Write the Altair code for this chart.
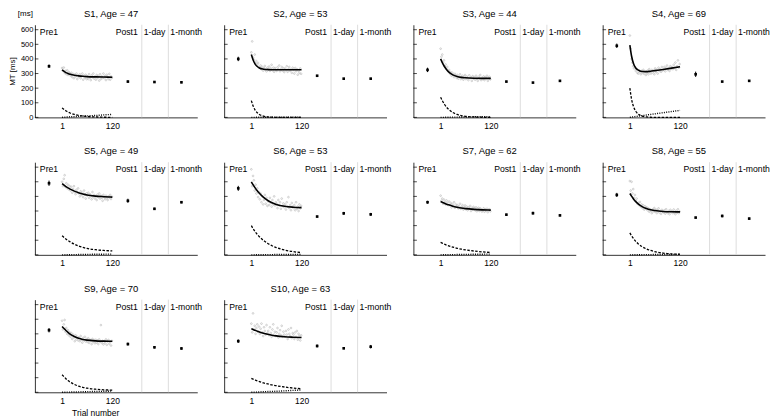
import altair as alt
import pandas as pd

FONT = "Liberation Sans"

subjects = ["S1", "S2", "S3", "S4", "S5", "S6", "S7", "S8", "S9", "S10"]
ages = [47, 53, 44, 69, 49, 53, 62, 55, 70, 63]

fit_trials = [1, 5, 10, 15, 20, 30, 40, 50, 60, 80, 100, 120]
fit_total = {
    "S1": [325, 316, 306, 300, 295, 288, 284, 281, 279, 277, 276, 275],
    "S2": [430, 395, 365, 348, 338, 330, 327, 326, 326, 326, 326, 326],
    "S3": [400, 375, 348, 327, 311, 291, 280, 274, 271, 268, 267, 267],
    "S4": [495, 420, 365, 338, 325, 314, 313, 316, 320, 328, 337, 347],
    "S5": [487, 478, 467, 458, 450, 436, 425, 417, 410, 402, 398, 395],
    "S6": [500, 480, 458, 438, 421, 393, 372, 356, 345, 332, 326, 323],
    "S7": [365, 360, 353, 347, 342, 333, 326, 320, 316, 311, 308, 306],
    "S8": [420, 402, 381, 364, 350, 330, 317, 308, 303, 297, 295, 294],
    "S9": [450, 438, 423, 410, 398, 382, 370, 362, 357, 352, 350, 349],
    "S10": [435, 430, 424, 418, 413, 404, 397, 391, 386, 380, 377, 375],
}
fit_fast = {
    "S1": [65, 55, 45, 37, 30, 20, 13, 9, 6, 3, 1, 0.5],
    "S2": [115, 80, 50, 32, 20, 8, 3, 1, 0, 0, 0, 0],
    "S3": [138, 115, 90, 70, 55, 33, 20, 12, 7, 3, 1, 0],
    "S4": [200, 125, 72, 42, 25, 9, 3, 1, 0, 0, 0, 0],
    "S5": [130, 120, 108, 98, 89, 73, 61, 51, 44, 35, 30, 27],
    "S6": [200, 180, 158, 140, 124, 98, 78, 62, 50, 33, 22, 15],
    "S7": [85, 80, 73, 67, 62, 53, 45, 39, 34, 26, 20, 16],
    "S8": [150, 130, 110, 92, 78, 56, 41, 30, 22, 12, 6, 4],
    "S9": [120, 108, 93, 80, 70, 54, 42, 34, 28, 21, 17, 15],
    "S10": [95, 90, 84, 78, 73, 64, 57, 50, 45, 36, 29, 24],
}
fit_slow = {
    "S1": [0, 1, 2, 3, 4, 5, 7, 9, 10, 13, 17, 20],
    "S2": [0, 0, 0.3, 0.5, 0.5, 0.8, 1, 1, 1, 1.2, 1.4, 1.5],
    "S3": [0, 0, 0.5, 1, 1, 2, 2, 3, 3, 4, 5, 5],
    "S4": [0, 2, 4, 6, 8, 12, 16, 20, 24, 32, 40, 48],
    "S5": [0, 0, 0.5, 1, 1, 1.5, 2, 2.5, 3, 4, 4.5, 5],
    "S6": [0, 0, 0.3, 0.5, 0.7, 1, 1.3, 1.6, 2, 2.4, 2.8, 3],
    "S7": [0, 0.2, 0.5, 0.8, 1, 1.5, 2, 2.5, 3, 3.8, 4.4, 5],
    "S8": [0, 0, 0.3, 0.5, 0.7, 1, 1.3, 1.6, 2, 2.4, 2.8, 3],
    "S9": [0, 0.3, 0.7, 1, 1.4, 2, 2.8, 3.5, 4.2, 5.5, 6.8, 8],
    "S10": [0, 0.5, 1, 2, 2.5, 4, 5, 6, 7, 10, 13, 16],
}

# single-trial movement times (every second trial)
scatter_trials = list(range(1, 120, 2))
scatter_mt = {
    "S1": [338, 320, 341, 305, 318, 296, 322, 290, 310, 300,
           285, 305, 276, 298, 268, 292, 280, 300, 262, 288,
           275, 295, 268, 282, 300, 258, 286, 270, 292, 262,
           280, 262, 296, 272, 255, 288, 275, 300, 266, 280,
           258, 290, 270, 284, 252, 295, 262, 280, 270, 300,
           268, 285, 255, 292, 276, 262, 298, 258, 280, 270],
    "S2": [445, 520, 410, 395, 430, 370, 385, 360, 372, 345,
           340, 355, 330, 345, 320, 338, 352, 328, 315, 340,
           330, 348, 318, 335, 360, 322, 340, 312, 338, 325,
           318, 342, 330, 355, 315, 328, 345, 320, 336, 310,
           335, 322, 350, 312, 330, 345, 318, 328, 305, 340,
           325, 300, 338, 315, 330, 292, 320, 305, 335, 298],
    "S3": [470, 415, 430, 375, 390, 350, 362, 330, 345, 315,
           325, 300, 310, 285, 305, 290, 275, 298, 285, 270,
           290, 265, 280, 295, 262, 275, 285, 258, 278, 290,
           262, 280, 270, 255, 288, 268, 275, 250, 282, 265,
           275, 258, 285, 265, 250, 278, 268, 290, 255, 272,
           262, 280, 255, 275, 268, 285, 250, 270, 278, 260],
    "S4": [560, 470, 400, 375, 350, 335, 345, 318, 330, 305,
           300, 322, 310, 295, 318, 305, 325, 298, 312, 290,
           305, 320, 295, 330, 312, 300, 325, 308, 318, 295,
           335, 310, 325, 300, 340, 318, 330, 312, 345, 322,
           328, 345, 315, 340, 355, 325, 338, 318, 350, 332,
           345, 330, 360, 338, 375, 325, 350, 390, 340, 365],
    "S5": [500, 470, 520, 545, 465, 490, 455, 480, 448, 470,
           440, 465, 425, 450, 470, 430, 415, 445, 428, 455,
           420, 400, 435, 410, 425, 395, 440, 415, 385, 420,
           405, 425, 390, 415, 400, 380, 430, 395, 410, 385,
           400, 375, 412, 395, 420, 385, 405, 390, 370, 410,
           395, 380, 405, 388, 375, 400, 392, 410, 382, 398],
    "S6": [585, 470, 540, 510, 440, 480, 420, 455, 395, 430,
           380, 420, 360, 400, 345, 375, 410, 350, 390, 335,
           365, 340, 390, 355, 330, 375, 345, 400, 338, 360,
           350, 320, 375, 340, 360, 315, 385, 335, 352, 325,
           345, 310, 360, 330, 395, 320, 340, 305, 355, 330,
           320, 340, 305, 360, 315, 330, 300, 345, 318, 335],
    "S7": [405, 370, 385, 350, 378, 360, 345, 372, 355, 340,
           365, 340, 355, 325, 348, 335, 360, 322, 345, 330,
           340, 318, 332, 350, 315, 328, 340, 310, 325, 338,
           312, 330, 305, 325, 318, 335, 300, 322, 310, 328,
           318, 305, 325, 298, 315, 322, 300, 318, 310, 296,
           305, 318, 295, 312, 300, 316, 292, 308, 312, 298],
    "S8": [505, 440, 500, 420, 450, 390, 410, 370, 385, 350,
           355, 340, 362, 330, 345, 320, 338, 310, 332, 318,
           325, 305, 318, 295, 312, 300, 285, 310, 298, 320,
           295, 310, 285, 305, 318, 290, 300, 280, 308, 295,
           290, 305, 282, 312, 295, 285, 300, 278, 308, 292,
           300, 285, 310, 290, 278, 302, 288, 312, 285, 296],
    "S9": [490, 430, 465, 495, 415, 440, 400, 425, 390, 410,
           380, 405, 365, 395, 375, 350, 390, 362, 380, 355,
           375, 350, 385, 360, 340, 372, 355, 380, 348, 365,
           345, 370, 338, 360, 352, 330, 365, 345, 358, 335,
           360, 340, 355, 330, 362, 345, 460, 338, 352, 328,
           350, 335, 362, 325, 348, 358, 332, 345, 320, 352],
    "S10": [470, 410, 540, 430, 455, 400, 440, 465, 415, 450,
            400, 435, 470, 410, 385, 445, 420, 395, 460, 405,
            420, 390, 445, 405, 380, 430, 465, 395, 415, 385,
            410, 440, 375, 400, 425, 390, 455, 380, 415, 395,
            380, 420, 395, 365, 430, 400, 385, 440, 370, 405,
            395, 365, 410, 380, 420, 360, 400, 385, 355, 390],
}

sessions = ["Pre1", "Post1", "1-day", "1-month"]
session_mean = {
    "S1": [350, 245, 242, 240], "S2": [400, 285, 265, 265],
    "S3": [325, 245, 238, 250], "S4": [490, 295, 245, 250],
    "S5": [490, 370, 315, 360], "S6": [455, 262, 284, 277],
    "S7": [360, 275, 285, 270], "S8": [410, 255, 266, 248],
    "S9": [425, 330, 308, 300], "S10": [350, 317, 301, 312],
}
session_err = {
    "S1": [12, 8, 5, 6], "S2": [15, 5, 4, 5], "S3": [15, 5, 4, 6],
    "S4": [15, 18, 4, 5], "S5": [18, 14, 7, 7], "S6": [17, 6, 10, 10],
    "S7": [10, 6, 10, 7], "S8": [14, 5, 9, 7], "S9": [15, 10, 8, 8],
    "S10": [12, 10, 6, 12],
}
y_ticks = [0, 100, 200, 300, 400, 500, 600]
x_ticks = [1, 120]

# layout (positions of the session blocks on the trial axis)
session_x = [-30, 157, 220, 284]
separator_x = [190, 253]
X_DOMAIN = [-63.5, 321.5]
Y_DOMAIN = [0, 634]
W, H = 163, 93
PX = W / (X_DOMAIN[1] - X_DOMAIN[0])
TITLE_OFFSET = 6
MS_Y = -11


def panel(i):
    s = subjects[i]
    first = i == 0
    xs = alt.Scale(domain=X_DOMAIN, nice=False, zero=False)
    ys = alt.Scale(domain=Y_DOMAIN, nice=False, zero=False)
    xaxis = alt.Axis(values=x_ticks, ticks=False, tickSize=0, grid=False,
                     labelFontSize=8.5, labelPadding=4, labelColor="black",
                     domainColor="black", domainWidth=0.8, title=None,
                     labelFlush=False)
    if first:
        yaxis = alt.Axis(values=y_ticks, ticks=False, tickSize=0, grid=False,
                         labelFontSize=7.5, labelPadding=2, labelColor="black",
                         domainColor="black", domainWidth=0.8,
                         title="MT [ms]", titleFontSize=8,
                         titleFontWeight="normal", titleColor="black",
                         titlePadding=4)
    else:
        yaxis = alt.Axis(values=y_ticks, ticks=False, tickSize=0, grid=False,
                         labels=False, domainColor="black", domainWidth=0.8,
                         title=None)

    sc_df = pd.DataFrame({"trial": scatter_trials, "mt": scatter_mt[s]})
    fit_df = pd.DataFrame({"trial": fit_trials, "total": fit_total[s],
                           "fast": fit_fast[s], "slow": fit_slow[s]})
    mean = session_mean[s]
    err = session_err[s]
    ss_df = pd.DataFrame({"session": sessions, "pos": session_x, "mean": mean,
                          "lo": [m - e for m, e in zip(mean, err)],
                          "hi": [m + e for m, e in zip(mean, err)]})
    sep_df = pd.DataFrame({"x": separator_x})
    tick_df = pd.DataFrame({"v": y_ticks})
    lab_left = pd.DataFrame({"t": ["Pre1", "1-day", "1-month"],
                             "x": [X_DOMAIN[0] + 3 / PX, separator_x[0], separator_x[1]]})
    lab_right = pd.DataFrame({"t": ["Post1"], "x": [separator_x[0]]})

    X = lambda f: alt.X(f, scale=xs, axis=xaxis)
    Y = lambda f: alt.Y(f, scale=ys, axis=yaxis)

    seps = alt.Chart(sep_df).mark_rule(color="#d4d4d4", strokeWidth=0.8).encode(x=X("x:Q"))
    ticks = alt.Chart(tick_df).mark_rule(color="black", strokeWidth=0.7).encode(
        y=Y("v:Q"), x=alt.value(0), x2=alt.value(3.5))
    pts = alt.Chart(sc_df).mark_point(shape="circle", filled=False, size=3,
                                      strokeWidth=0.55, color="#b0b0b0", opacity=1).encode(
        x=X("trial:Q"), y=Y("mt:Q"))
    solid = alt.Chart(fit_df).mark_line(color="black", strokeWidth=1.6,
                                        interpolate="monotone").encode(x=X("trial:Q"), y=Y("total:Q"))
    dashed = alt.Chart(fit_df).mark_line(color="black", strokeWidth=1.3, strokeDash=[2.5, 1.5],
                                         interpolate="monotone").encode(x=X("trial:Q"), y=Y("fast:Q"))
    dotted = alt.Chart(fit_df).mark_line(color="black", strokeWidth=1.4, strokeDash=[1, 1.3],
                                         interpolate="monotone").encode(x=X("trial:Q"), y=Y("slow:Q"))
    ebar = alt.Chart(ss_df).mark_rule(color="black", strokeWidth=1).encode(
        x=X("pos:Q"), y=Y("lo:Q"), y2="hi:Q")
    msq = alt.Chart(ss_df).mark_square(size=7, color="black", opacity=1).encode(
        x=X("pos:Q"), y=Y("mean:Q"))
    tl = alt.Chart(lab_left).mark_text(align="left", baseline="middle", dx=2,
                                       fontSize=8.7, color="black").encode(
        x=X("x:Q"), y=alt.value(7), text="t:N")
    tr = alt.Chart(lab_right).mark_text(align="right", baseline="middle", dx=-4,
                                        fontSize=8.7, color="black").encode(
        x=X("x:Q"), y=alt.value(7), text="t:N")

    layers = [seps, ticks, pts, solid, dashed, dotted, ebar, msq, tl, tr]
    title_offset = TITLE_OFFSET
    if first:
        ms = alt.Chart(pd.DataFrame({"t": ["[ms]"]})).mark_text(
            align="right", baseline="middle", fontSize=8, color="black").encode(
            x=alt.value(-2), y=alt.value(MS_Y), text="t:N")
        layers.append(ms)
        title_offset = TITLE_OFFSET + MS_Y - 4
    if s == "S9":
        tn = alt.Chart(pd.DataFrame({"t": ["Trial number"]})).mark_text(
            align="center", baseline="middle", fontSize=8.5, color="black").encode(
            x=alt.value(61), y=alt.value(H + 21), text="t:N")
        layers.append(tn)

    return alt.layer(*layers).properties(
        width=W, height=H,
        title=alt.TitleParams(text=f"{s}, Age = {ages[i]}", fontSize=9.5,
                              fontWeight="normal", color="black",
                              offset=title_offset, dx=-5, anchor="middle",
                              frame="group"))


panels = [panel(i) for i in range(len(subjects))]
chart = alt.concat(*panels, columns=4, spacing={"row": 45, "column": 27},
                   bounds="flush").properties(padding=0)
chart = chart.configure(font=FONT).configure_view(stroke=None)
chart.save("out.html", embed_options={"renderer": "svg", "actions": False})
